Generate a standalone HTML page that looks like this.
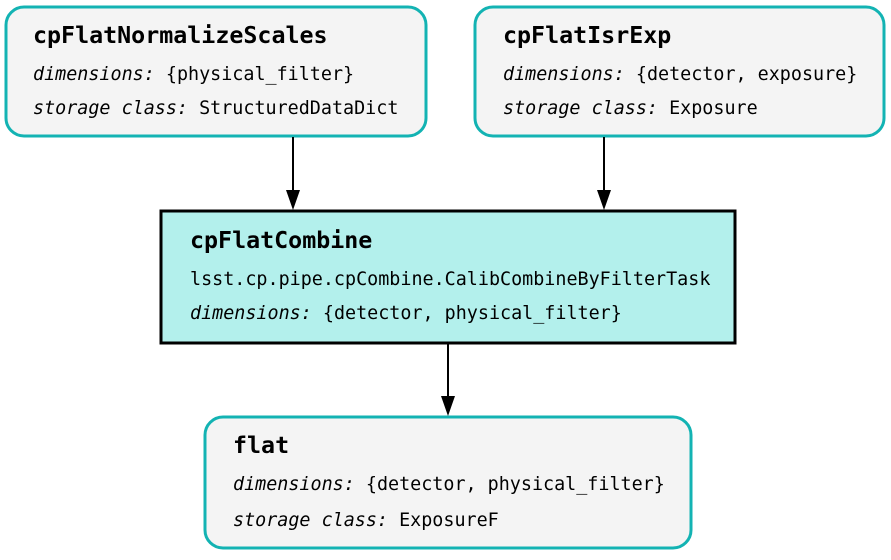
<!DOCTYPE html>
<html><head><style>body{margin:0;background:#fff}</style></head><body>
<svg width="891" height="555" xmlns="http://www.w3.org/2000/svg" font-family="DejaVu Sans Mono, Liberation Mono, monospace">
<rect x="6" y="7" width="420" height="129" rx="18" fill="#f4f4f4" stroke="#13b3b3" stroke-width="3"/>
<rect x="475" y="7" width="409" height="129" rx="18" fill="#f4f4f4" stroke="#13b3b3" stroke-width="3"/>
<rect x="161" y="211" width="574" height="132" fill="#b3f0ec" stroke="#000" stroke-width="3"/>
<rect x="205" y="417" width="486" height="131" rx="18" fill="#f4f4f4" stroke="#13b3b3" stroke-width="3"/>
<g stroke="#000" stroke-width="2">
<line x1="293" y1="137" x2="293" y2="192"/><line x1="604" y1="137" x2="604" y2="192"/><line x1="448" y1="344" x2="448" y2="398"/></g>
<g fill="#000"><path d="M286,190 L300,190 L293,210z"/><path d="M597,190 L611,190 L604,210z"/><path d="M441,396 L455,396 L448,416z"/></g>
<g font-size="18.4" fill="#000">
<text x="33" y="43" font-size="23.3" font-weight="bold">cpFlatNormalizeScales</text>
<text x="33" y="80"><tspan font-style="italic">dimensions:</tspan> {physical_filter}</text>
<text x="33" y="114"><tspan font-style="italic">storage class:</tspan> StructuredDataDict</text>
<text x="503" y="43" font-size="23.3" font-weight="bold">cpFlatIsrExp</text>
<text x="503" y="80"><tspan font-style="italic">dimensions:</tspan> {detector, exposure}</text>
<text x="503" y="114"><tspan font-style="italic">storage class:</tspan> Exposure</text>
<text x="190" y="248" font-size="23.3" font-weight="bold">cpFlatCombine</text>
<text x="190" y="285">lsst.cp.pipe.cpCombine.CalibCombineByFilterTask</text>
<text x="190" y="319"><tspan font-style="italic">dimensions:</tspan> {detector, physical_filter}</text>
<text x="233" y="453" font-size="23.3" font-weight="bold">flat</text>
<text x="233" y="490"><tspan font-style="italic">dimensions:</tspan> {detector, physical_filter}</text>
<text x="233" y="526"><tspan font-style="italic">storage class:</tspan> ExposureF</text>
</g>
</svg>
</body></html>
